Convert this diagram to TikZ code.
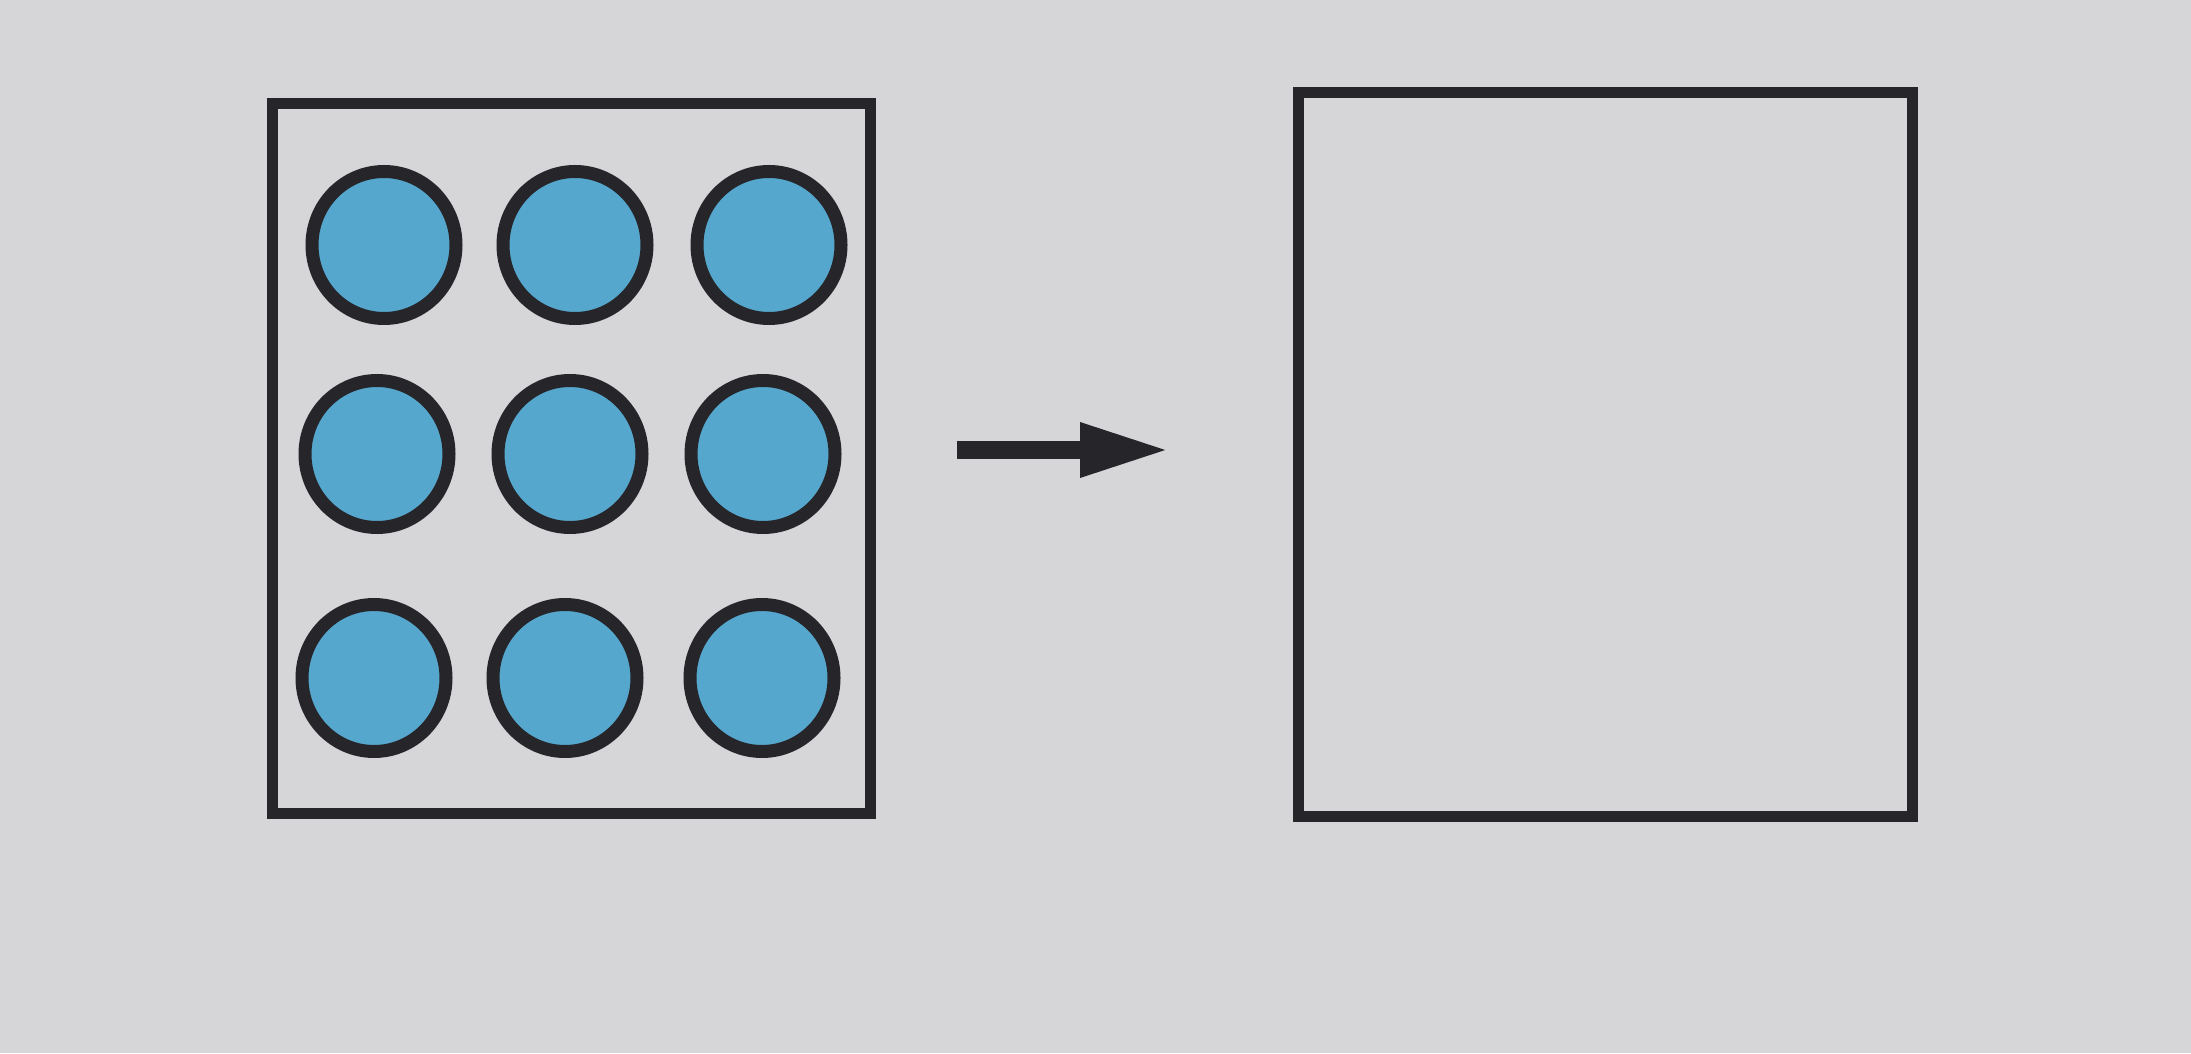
\documentclass[tikz,border=0pt]{standalone}
\usetikzlibrary{arrows.meta,shapes.geometric}
\definecolor{paper}{RGB}{214,214,216}
\definecolor{ink}{RGB}{38,38,42}
\definecolor{chip}{RGB}{86,167,206}
\tikzset{
  box/.style={draw=ink,line width=0.11cm,inner sep=0pt,outer sep=0pt},
  chipnode/.style={ellipse,draw=ink,fill=chip,line width=0.13cm,
    minimum width=1.44cm,minimum height=1.47cm,inner sep=0pt},
}
\begin{document}
\begin{tikzpicture}[x=1cm,y=1cm]
\fill[paper] (0,0) rectangle (21.91,10.53);
\useasboundingbox (0,0) rectangle (21.91,10.53);
% left box with the counters
\node[box,minimum width=5.98cm,minimum height=7.09cm] (lbox) at (5.71,5.945) {};
\node[chipnode] (c11) at (3.84,8.08) {};
\node[chipnode] (c12) at (5.75,8.08) {};
\node[chipnode] (c13) at (7.69,8.08) {};
\node[chipnode] (c21) at (3.77,5.99) {};
\node[chipnode] (c22) at (5.70,5.99) {};
\node[chipnode] (c23) at (7.63,5.99) {};
\node[chipnode] (c31) at (3.74,3.75) {};
\node[chipnode] (c32) at (5.65,3.75) {};
\node[chipnode] (c33) at (7.62,3.75) {};
% empty box
\node[box,minimum width=6.14cm,minimum height=7.23cm] (rbox) at (16.05,5.985) {};
% arrow
\coordinate (arrs) at (9.57,6.03);
\coordinate (arre) at (11.70,6.03);
\draw[ink,line width=0.18cm,-{Triangle[length=0.9cm,width=0.5cm]}] (arrs) -- (arre);
\end{tikzpicture}
\end{document}
